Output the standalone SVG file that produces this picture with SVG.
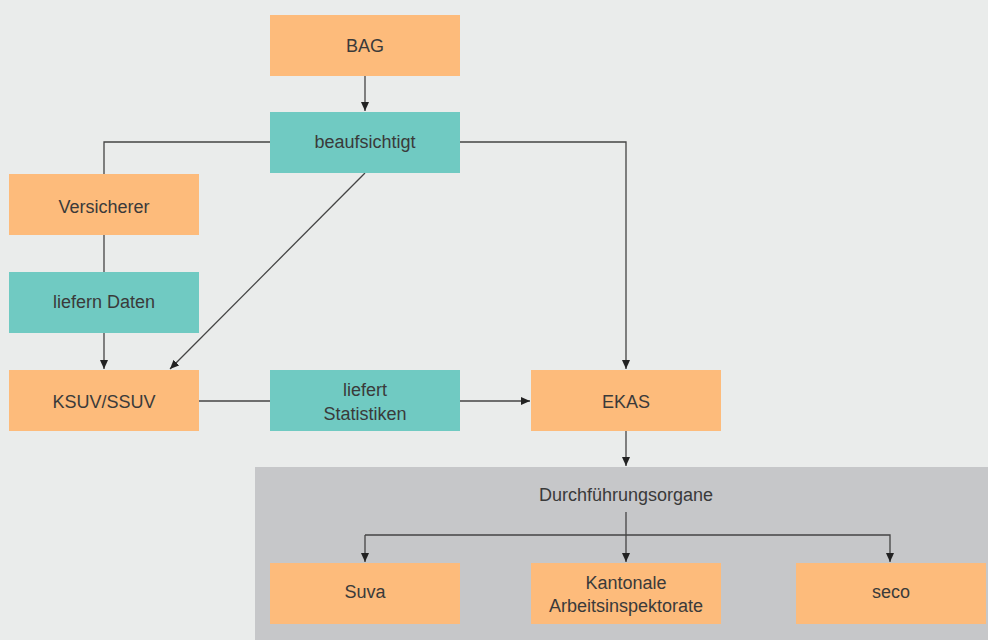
<svg xmlns="http://www.w3.org/2000/svg" width="988" height="640" viewBox="0 0 988 640">
<style>
.o{fill:#FDBB7B}
.t{fill:#70CAC2}
.lbl{font-family:"Liberation Sans",Arial,sans-serif;font-size:18px;fill:#3a3a3a;text-anchor:middle}
.ln{fill:none;stroke:#444;stroke-width:1.3}
.ar{marker-end:url(#ah)}
</style>
<defs>
<marker id="ah" markerWidth="10" markerHeight="8" refX="9" refY="4" orient="auto" markerUnits="userSpaceOnUse">
<path d="M0,0 L9,4 L0,8 Z" fill="#222"/>
</marker>
</defs>
<rect width="988" height="640" fill="#EAECEB"/>
<g id="durchfuehrungsorgane">
<rect x="255" y="467" width="733" height="173" fill="#C6C7C9"/>
<text class="lbl" x="626" y="501">Durchführungsorgane</text>
</g>
<g id="connectors">
<path class="ln ar" d="M365,76 V111"/>
<path class="ln" d="M270,142 H104 V174"/>
<path class="ln" d="M104,235 V272"/>
<path class="ln ar" d="M104,333 V369"/>
<path class="ln ar" d="M365,173 L170,369"/>
<path class="ln ar" d="M460,142 H626 V369"/>
<path class="ln" d="M199,401 H270"/>
<path class="ln ar" d="M460,401 H530"/>
<path class="ln ar" d="M626,431 V466"/>
<path class="ln ar" d="M626,512 V562"/>
<path class="ln ar" d="M365,535 H890 V562"/>
<path class="ln ar" d="M365,535 V562"/>
</g>
<g id="bag"><rect class="o" x="270" y="15" width="190" height="61"/><text class="lbl" x="365" y="52">BAG</text></g>
<g id="beaufsichtigt"><rect class="t" x="270" y="112" width="190" height="61"/><text class="lbl" x="365" y="148">beaufsichtigt</text></g>
<g id="versicherer"><rect class="o" x="9" y="174" width="190" height="61"/><text class="lbl" x="104" y="213">Versicherer</text></g>
<g id="liefern-daten"><rect class="t" x="9" y="272" width="190" height="61"/><text class="lbl" x="104" y="308">liefern Daten</text></g>
<g id="ksuv"><rect class="o" x="9" y="370" width="190" height="61"/><text class="lbl" x="104" y="408">KSUV/SSUV</text></g>
<g id="liefert-statistiken"><rect class="t" x="270" y="370" width="190" height="61"/><text class="lbl" x="365" y="396">liefert</text><text class="lbl" x="365" y="420">Statistiken</text></g>
<g id="ekas"><rect class="o" x="531" y="370" width="190" height="61"/><text class="lbl" x="626" y="408">EKAS</text></g>
<g id="suva"><rect class="o" x="270" y="563" width="190" height="61"/><text class="lbl" x="365" y="598">Suva</text></g>
<g id="kantonale"><rect class="o" x="531" y="563" width="190" height="61"/><text class="lbl" x="626" y="589">Kantonale</text><text class="lbl" x="626" y="612">Arbeitsinspektorate</text></g>
<g id="seco"><rect class="o" x="796" y="563" width="190" height="61"/><text class="lbl" x="891" y="598">seco</text></g>
</svg>
